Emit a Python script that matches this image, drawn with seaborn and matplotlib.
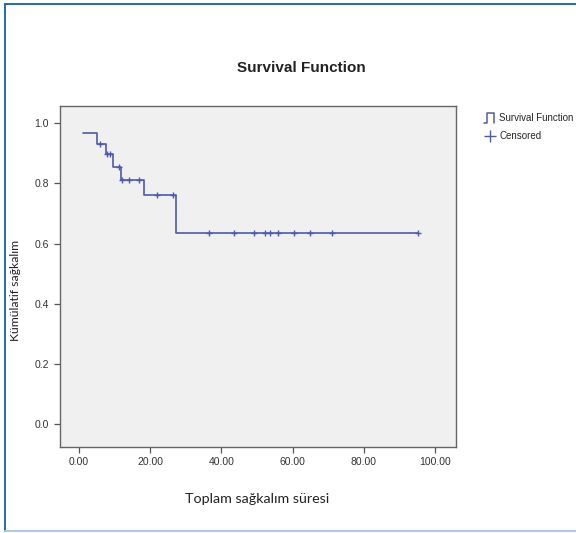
import numpy as np
import pandas as pd
import seaborn as sns
import matplotlib.pyplot as plt
from matplotlib.lines import Line2D
from matplotlib.legend_handler import HandlerBase

# values
step_times = [1.0, 5.0, 7.5, 9.5, 11.8, 18.3, 27.2, 95.1]
step_surv = [0.967, 0.931, 0.897, 0.856, 0.812, 0.762, 0.634, 0.634]
cens_times = [5.9, 7.8, 8.7, 11.3, 12.1, 14.1, 16.7, 21.8, 26.5,
              36.6, 43.4, 49.2, 52.2, 53.7, 55.8, 60.5, 64.9, 71.0, 95.1]
cens_surv = [0.931, 0.897, 0.897, 0.856, 0.812, 0.812, 0.812, 0.762, 0.762,
             0.634, 0.634, 0.634, 0.634, 0.634, 0.634, 0.634, 0.634, 0.634, 0.634]
x_ticks = [0, 20, 40, 60, 80, 100]
y_ticks = [0.0, 0.2, 0.4, 0.6, 0.8, 1.0]

LINE_COLOR = "#4f5ba6"


class StepHandler(HandlerBase):
    """Draw the little step icon SPSS uses for the survival line."""

    def create_artists(self, legend, orig_handle, xdescent, ydescent,
                       width, height, fontsize, trans):
        w, h = width, height
        xs = np.array([0, 0.25, 0.25, 0.9, 0.9]) * w - xdescent
        ys = np.array([-0.2, -0.2, 1.25, 1.25, -0.2]) * h - ydescent
        line = Line2D(xs, ys, color=LINE_COLOR, lw=1.1, transform=trans)
        return [line]


sns.set_style("white")
plt.rcParams["font.family"] = ["Liberation Sans", "DejaVu Sans"]

fig = plt.figure(figsize=(5.76, 5.33), dpi=100)
ax = fig.add_axes([0.1033, 0.1619, 0.6884, 0.6398])
ax.set_facecolor("#f0f0f0")

curve = pd.DataFrame({"time": step_times, "surv": step_surv})
cens = pd.DataFrame({"time": cens_times, "surv": cens_surv})

sns.lineplot(data=curve, x="time", y="surv", drawstyle="steps-post",
             color=LINE_COLOR, lw=1.2, ax=ax, estimator=None)
sns.scatterplot(data=cens, x="time", y="surv", marker="+", s=22,
                color=LINE_COLOR, linewidth=1.0, ax=ax, zorder=3)

ax.set_xlim(-5.5, 105.9)
ax.set_ylim(-0.074, 1.058)
ax.set_xticks(x_ticks)
ax.set_xticklabels([f"{v:.2f}" for v in x_ticks])
ax.set_yticks(y_ticks)
ax.set_yticklabels([f"{v:.1f}" for v in y_ticks])
ax.tick_params(axis="both", which="major", direction="out", length=4.5,
               width=0.9, color="#555555", labelsize=7.5, labelcolor="#333333",
               bottom=True, left=True, pad=3)
for sp in ax.spines.values():
    sp.set_color("#666666")
    sp.set_linewidth(1.0)

ax.set_xlabel("")
ax.set_ylabel("")

fig.text(0.5226, 0.873, "Survival Function", ha="center", va="center",
         fontsize=11, fontweight="bold", color="#222222")
fig.text(0.446, 0.064, "Toplam sağkalım süresi", ha="center", va="center",
         fontsize=10.3, color="#222222", family=["Lato", "DejaVu Sans"])
fig.text(0.027, 0.455, "Kümülatif sağkalım", ha="center", va="center",
         rotation=90, fontsize=8.8, color="#222222", family=["Lato", "DejaVu Sans"])

handles = [Line2D([], [], color=LINE_COLOR),
           Line2D([], [], color=LINE_COLOR, marker="+", ls="none", markersize=8)]
fig.legend(handles, ["Survival Function", "Censored"],
           handler_map={handles[0]: StepHandler()},
           loc="upper left", bbox_to_anchor=(0.834, 0.795), frameon=False,
           fontsize=7.0, handlelength=1.1, handletextpad=0.45,
           labelspacing=0.85, borderaxespad=0)

# blue frame around the image like the source document
fig.add_artist(Line2D([0.009, 0.009], [0.004, 0.993], color="#1f6db3", lw=1.4))
fig.add_artist(Line2D([0.009, 1.0], [0.993, 0.993], color="#1f6db3", lw=1.4))
fig.add_artist(Line2D([0.009, 1.0], [0.004, 0.004], color="#a9cbea", lw=1.4))

fig.savefig("out.png", dpi=100)
